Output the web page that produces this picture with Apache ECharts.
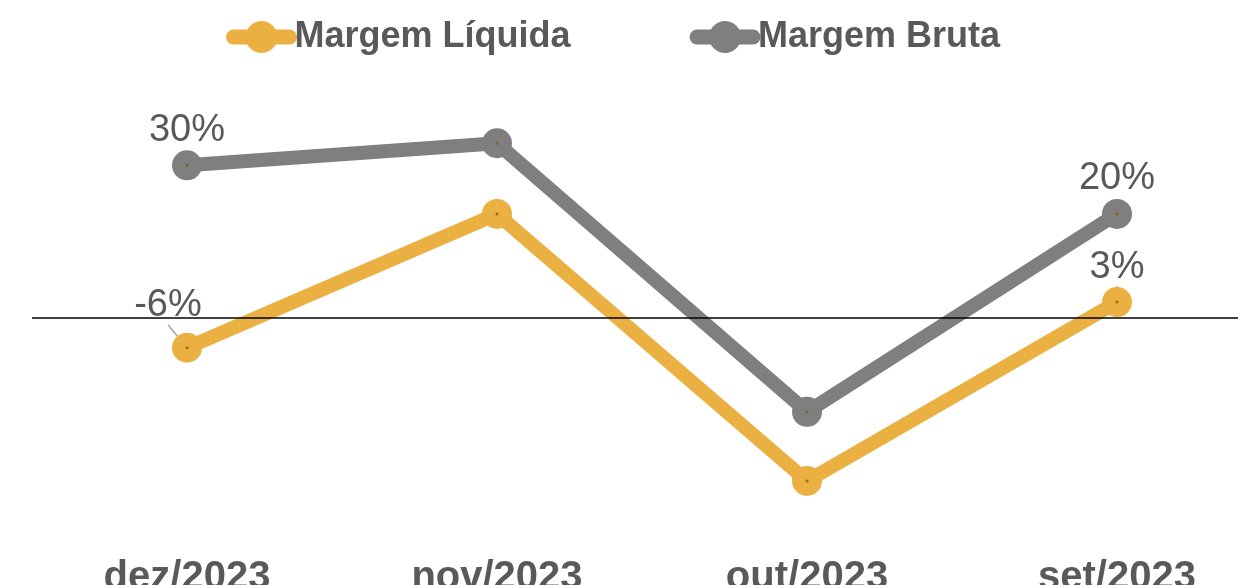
<!DOCTYPE html>
<html>
<head>
<meta charset="utf-8">
<script src="https://cdn.jsdelivr.net/npm/echarts@6/dist/echarts.min.js"></script>
<style>
  html, body { margin: 0; padding: 0; background: #fff; }
  #chart { width: 1238px; height: 585px; }
</style>
</head>
<body>
<div id="chart"></div>
<script>
// valores (em %)
var categories = ['dez/2023', 'nov/2023', 'out/2023', 'set/2023'];
var margemLiquida = [-5.8, 20.3, -31.8, 3.1];
var margemBruta = [29.8, 34.1, -18.3, 20.3];
var labeledIdx = [0, 3]; // so primeiro e ultimo ponto tem rotulo

var YELLOW = '#EBB042';
var GREY = '#7F7F7F';
var TEXT = '#595959';
var FONT = '"Liberation Sans", Arial, sans-serif';

function withLabels(values) {
  return values.map(function (v, i) {
    return {
      value: v,
      label: { show: labeledIdx.indexOf(i) >= 0 }
    };
  });
}

function lineSeries(name, color, values, extra) {
  var s = {
    name: name,
    type: 'line',
    data: withLabels(values),
    symbol: 'circle',
    symbolSize: 30,
    lineStyle: { width: 14, color: color, cap: 'round', join: 'round' },
    itemStyle: { color: color },
    label: {
      position: 'top',
      distance: 1,
      color: TEXT,
      fontSize: 38,
      fontFamily: FONT,
      formatter: function (p) { return Math.round(p.value) + '%'; }
    },
    emphasis: { disabled: true },
    animation: false
  };
  for (var k in extra) s[k] = extra[k];
  return s;
}

function dotSeries(values) {
  return {
    type: 'scatter',
    data: values,
    symbolSize: 3,
    itemStyle: { color: '#8B5A0A' },
    z: 5,
    silent: true,
    animation: false
  };
}

var chart = echarts.init(document.getElementById('chart'));
chart.setOption({
  backgroundColor: '#fff',
  textStyle: { fontFamily: FONT },
  legend: {
    data: ['Margem Líquida', 'Margem Bruta'],
    top: 14,
    left: 221,
    itemWidth: 56,
    itemHeight: 40,
    itemGap: 119,
    lineStyle: { width: 15, cap: 'round' },
    textStyle: { color: TEXT, fontSize: 36, fontWeight: 'bold', fontFamily: FONT }
  },
  grid: { left: 32, width: 1240, top: 113, height: 410, containLabel: false, outerBoundsMode: 'none' },
  xAxis: {
    type: 'category',
    data: categories,
    boundaryGap: true,
    axisLine: { show: false, onZero: false },
    axisTick: { show: false },
    axisLabel: { color: TEXT, fontSize: 40, fontWeight: 'bold', fontFamily: FONT, margin: 35 }
  },
  yAxis: {
    type: 'value',
    min: -40,
    max: 40,
    show: false,
    splitLine: { show: false }
  },
  series: [
    lineSeries('Margem Líquida', YELLOW, margemLiquida, {
      labelLine: { show: true, lineStyle: { color: '#A6A6A6', width: 1.5 } },
      labelLayout: function (p) {
        if (p.dataIndex === 0) return { dx: -19, dy: -7 };
        return {};
      },
      markLine: {
        silent: true,
        symbol: 'none',
        label: { show: false },
        lineStyle: { color: '#000', width: 1.5, type: 'solid' },
        data: [{ yAxis: 0 }],
        animation: false
      }
    }),
    lineSeries('Margem Bruta', GREY, margemBruta, {}),
    dotSeries(margemLiquida),
    dotSeries(margemBruta)
  ]
});
</script>
</body>
</html>
